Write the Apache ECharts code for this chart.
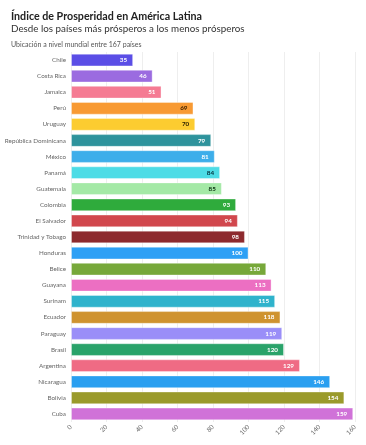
<!DOCTYPE html>
<html><head><meta charset="utf-8">
<script src="https://cdn.jsdelivr.net/npm/echarts@6/dist/echarts.min.js"></script>
<style>html,body{margin:0;padding:0;background:#fff}#c{width:366px;height:445px}</style>
</head><body><div id="c"></div>
<script>
const categories = ["Chile","Costa Rica","Jamaica","Perú","Uruguay","República Dominicana","México","Panamá","Guatemala","Colombia","El Salvador","Trinidad y Tobago","Honduras","Belice","Guayana","Surinam","Ecuador","Paraguay","Brasil","Argentina","Nicaragua","Bolivia","Cuba"];
const values = [35,46,51,69,70,79,81,84,85,93,94,98,100,110,113,115,118,119,120,129,146,154,159];
const barColors = ["#5b4ee6","#9b6be0","#f57b93","#f89a33","#fccc30","#2e939c","#3daeea","#4ddce6","#a4e9a6","#2fab3c","#d1474d","#8d2a2e","#2ea0f5","#77a83a","#ec6fc2","#2fb3cc","#cf932f","#9a8ef8","#2aa36a","#ef6b84","#2a9ff0","#9a9a2b","#d072d8"];
const labelColors = ["#fff","#fff","#fff","#3a2000","#2a2000","#fff","#fff","#02303a","#0a3010","#fff","#fff","#fff","#fff","#fff","#fff","#fff","#fff","#fff","#fff","#fff","#fff","#fff","#fff"];
const xTicks = [0,20,40,60,80,100,120,140,160];

const chart = echarts.init(document.getElementById('c'), null, {renderer:'canvas'});
const font = 'Lato, "Open Sans", sans-serif';
chart.setOption({
  animation:false,
  textStyle:{fontFamily:font},
  title:[
    {text:'Índice de Prosperidad en América Latina', left:6, top:6, textStyle:{fontFamily:font,fontSize:10.7,fontWeight:'bold',color:'#222'}},
    {text:'Desde los países más prósperos a los menos prósperos', left:6, top:19, textStyle:{fontFamily:font,fontSize:9.8,fontWeight:'normal',color:'#333'}},
    {text:'Ubicación a nivel mundial entre 167 países', left:6, top:36, textStyle:{fontFamily:font,fontSize:7,fontWeight:'normal',color:'#555'}}
  ],
  grid:{left:71, right:11, top:52, bottom:23, containLabel:false},
  xAxis:{type:'value', min:xTicks[0], max:xTicks[xTicks.length-1], interval:20,
    axisLine:{show:false}, axisTick:{show:false},
    splitLine:{show:true, lineStyle:{color:'#eeeeee', width:1}},
    axisLabel:{rotate:45, fontSize:6.3, color:'#666', margin:4, fontFamily:font}},
  yAxis:{type:'category', data:categories, inverse:true,
    axisLine:{show:false}, axisTick:{show:false},
    axisLabel:{fontSize:6.3, color:'#666', margin:5, fontFamily:font}},
  series:[{type:'bar', barWidth:'79%',
    data: values.map((v,i)=>({value:v, itemStyle:{color:barColors[i]}, label:{color:labelColors[i]}})),
    itemStyle:{borderColor:'rgba(255,255,255,0.35)', borderWidth:1},
    label:{show:true, position:'insideRight', offset:[-1,0], fontSize:6.3, fontWeight:'bold', fontFamily:font}
  }]
});
</script></body></html>
